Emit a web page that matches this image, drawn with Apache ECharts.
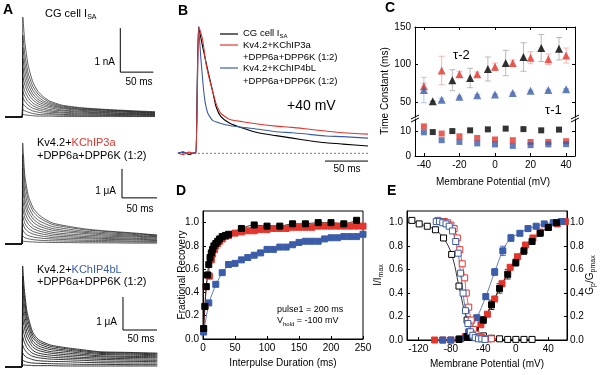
<!DOCTYPE html>
<html>
<head>
<meta charset="utf-8">
<script src="https://cdn.jsdelivr.net/npm/echarts@6/dist/echarts.min.js"></script>
<style>
  html, body { margin: 0; background: #fff; }
  #chart { width: 603px; height: 375px; }
</style>
</head>
<body>
<div id="chart"></div>
<script>
const FONT = 'Liberation Sans, Arial, Helvetica, sans-serif';
const RED = '#e3352c';
const BLUE = '#3b5ca9';

// ---- A: current families (time ms, current in nA / uA) ----
const aTopT = [-26, 0, 1, 4, 9, 16, 24, 32, 42, 60, 90, 130, 170, 201];
const aTopTraces = [
  [0, 0, 2.27, 1.70, 1.18, 0.80, 0.58, 0.46, 0.36, 0.27, 0.21, 0.17, 0.14, 0.12],
  [0, 0, 1.86, 1.42, 1.00, 0.70, 0.52, 0.42, 0.33, 0.25, 0.20, 0.16, 0.13, 0.11],
  [0, 0, 1.58, 1.22, 0.87, 0.61, 0.46, 0.37, 0.30, 0.23, 0.18, 0.15, 0.12, 0.10],
  [0, 0, 1.34, 1.04, 0.75, 0.53, 0.40, 0.33, 0.27, 0.21, 0.17, 0.13, 0.11, 0.09],
  [0, 0, 1.12, 0.88, 0.64, 0.46, 0.35, 0.29, 0.24, 0.19, 0.15, 0.12, 0.10, 0.08],
  [0, 0, 0.92, 0.73, 0.54, 0.39, 0.30, 0.25, 0.21, 0.16, 0.13, 0.10, 0.08, 0.07],
  [0, 0, 0.74, 0.59, 0.44, 0.32, 0.25, 0.21, 0.17, 0.14, 0.11, 0.09, 0.07, 0.06],
  [0, 0, 0.58, 0.47, 0.35, 0.26, 0.20, 0.17, 0.14, 0.11, 0.09, 0.07, 0.06, 0.05],
  [0, 0, 0.44, 0.36, 0.27, 0.20, 0.16, 0.13, 0.11, 0.09, 0.07, 0.06, 0.05, 0.04],
  [0, 0, 0.30, 0.25, 0.19, 0.14, 0.11, 0.09, 0.08, 0.06, 0.05, 0.04, 0.03, 0.03],
  [0, 0, 0.17, 0.14, 0.11, 0.08, 0.06, 0.05, 0.05, 0.04, 0.03, 0.03, 0.02, 0.02],
  [0, 0, 0.06, 0.05, 0.04, 0.03, 0.02, 0.02, 0.02, 0.01, 0.01, 0.01, 0.01, 0.01]
];
const aMidT = [-24, 0, 1, 4, 9, 16, 24, 32, 44, 64, 90, 120, 160, 193];
const aMidTraces = [
  [0, 0, 3.48, 2.37, 1.67, 1.24, 1.01, 0.87, 0.72, 0.62, 0.52, 0.45, 0.38, 0.31],
  [0, 0, 3.08, 2.12, 1.50, 1.12, 0.92, 0.80, 0.67, 0.58, 0.49, 0.43, 0.36, 0.30],
  [0, 0, 2.62, 1.82, 1.30, 0.98, 0.81, 0.71, 0.60, 0.52, 0.44, 0.39, 0.33, 0.28],
  [0, 0, 2.22, 1.56, 1.13, 0.86, 0.71, 0.62, 0.53, 0.46, 0.40, 0.35, 0.30, 0.25],
  [0, 0, 1.88, 1.34, 0.98, 0.75, 0.62, 0.55, 0.47, 0.41, 0.36, 0.31, 0.27, 0.23],
  [0, 0, 1.53, 1.10, 0.82, 0.63, 0.53, 0.47, 0.40, 0.35, 0.31, 0.27, 0.24, 0.20],
  [0, 0, 1.24, 0.90, 0.68, 0.53, 0.45, 0.40, 0.34, 0.30, 0.26, 0.23, 0.20, 0.17],
  [0, 0, 0.97, 0.71, 0.54, 0.43, 0.37, 0.33, 0.28, 0.25, 0.22, 0.19, 0.17, 0.14],
  [0, 0, 0.72, 0.54, 0.42, 0.34, 0.29, 0.26, 0.22, 0.20, 0.18, 0.16, 0.14, 0.12],
  [0, 0, 0.49, 0.37, 0.29, 0.24, 0.21, 0.19, 0.17, 0.15, 0.13, 0.12, 0.10, 0.09],
  [0, 0, 0.28, 0.22, 0.18, 0.15, 0.13, 0.12, 0.11, 0.10, 0.09, 0.08, 0.07, 0.06],
  [0, 0, 0.10, 0.09, 0.08, 0.07, 0.06, 0.06, 0.05, 0.05, 0.04, 0.04, 0.03, 0.03]
];
const aBotT = [-25, 0, 1, 3, 7, 12, 16, 24, 41, 66, 90, 115, 160, 199];
const aBotTraces = [
  [0, 0, 3.06, 2.45, 1.71, 1.29, 1.04, 0.83, 0.67, 0.58, 0.52, 0.46, 0.44, 0.42],
  [0, 0, 2.75, 2.21, 1.56, 1.18, 0.96, 0.77, 0.63, 0.55, 0.49, 0.44, 0.42, 0.40],
  [0, 0, 2.45, 1.98, 1.41, 1.07, 0.88, 0.71, 0.58, 0.51, 0.46, 0.41, 0.39, 0.37],
  [0, 0, 2.12, 1.72, 1.24, 0.95, 0.78, 0.64, 0.53, 0.47, 0.42, 0.38, 0.36, 0.34],
  [0, 0, 1.80, 1.47, 1.07, 0.83, 0.69, 0.57, 0.47, 0.42, 0.38, 0.34, 0.32, 0.31],
  [0, 0, 1.50, 1.23, 0.91, 0.71, 0.60, 0.50, 0.42, 0.37, 0.34, 0.31, 0.29, 0.28],
  [0, 0, 1.20, 0.99, 0.74, 0.59, 0.50, 0.42, 0.36, 0.32, 0.29, 0.27, 0.25, 0.24],
  [0, 0, 0.92, 0.77, 0.59, 0.47, 0.41, 0.35, 0.30, 0.27, 0.25, 0.23, 0.21, 0.20],
  [0, 0, 0.66, 0.56, 0.44, 0.36, 0.32, 0.28, 0.24, 0.22, 0.20, 0.18, 0.17, 0.16],
  [0, 0, 0.42, 0.36, 0.29, 0.25, 0.22, 0.19, 0.17, 0.16, 0.14, 0.13, 0.12, 0.12],
  [0, 0, 0.20, 0.18, 0.15, 0.13, 0.12, 0.11, 0.10, 0.09, 0.08, 0.08, 0.07, 0.07],
  [0, 0, 0.06, 0.06, 0.05, 0.05, 0.04, 0.04, 0.04, 0.03, 0.03, 0.03, 0.03, 0.03]
];

// ---- B: normalised traces at +40 mV ----
const bBlkT = [-21, -15, -8, -2, 0, 3, 7.8, 13.6, 19.4, 23.3, 29, 38.7, 54, 73.6, 93, 112, 132, 151, 170.6, 200];
const bBlkY = [0, 0.01, -0.01, 0.005, 0, 1.0, 0.84, 0.66, 0.49, 0.37, 0.29, 0.24, 0.20, 0.16, 0.14, 0.12, 0.10, 0.084, 0.073, 0.058];
const bRedT = [-21, -15, -8, -2, 0, 3.5, 7.8, 11.6, 15.5, 19.4, 23.3, 29, 38.7, 54, 73.6, 93, 112, 132, 151, 170.6, 200];
const bRedY = [0, -0.01, 0.01, 0, 0, 1.0, 0.895, 0.71, 0.59, 0.49, 0.395, 0.316, 0.27, 0.25, 0.23, 0.215, 0.205, 0.19, 0.176, 0.163, 0.152];
const bBluT = [-21, -15, -8, -2, 0, 3, 5.8, 9.7, 13.6, 19.4, 27, 38.7, 54, 73.6, 93, 112, 132, 151, 170.6, 200];
const bBluY = [0, 0.01, -0.005, 0.005, 0, 1.0, 0.74, 0.45, 0.32, 0.26, 0.24, 0.22, 0.205, 0.19, 0.17, 0.163, 0.15, 0.137, 0.132, 0.12];

// ---- C: time constants (ms) vs membrane potential (mV) ----
const cBlkV = [-35, -24, -14, -4, 6, 16, 26, 36];
const cColV = [-40, -30, -20, -10, 0, 10, 20, 30, 40];
const cBlkTau2 = [51, 79, 82, 94, 102, 110, 122, 121];
const cBlkTau2Err = [0, 14, 13, 16, 17, 19, 18, 15];
const cRedTau2 = [71, 92, 87, 87, 97, 102, 109, 107, 112];
const cRedTau2Err = [4, 19, 4, 3, 5, 4, 8, 7, 10];
const cBluTau2 = [66, 53, 57, 59, 60, 62, 65, 66, 67];
const cBluTau2Err = [17, 2, 1, 1, 1, 1, 1, 1, 1];
const cBlkTau1 = [9.7, 10.1, 10.4, 10.8, 11.1, 10.9, 10.4, 10.7];
const cRedTau1 = [12.0, 9.1, 8.0, 7.3, 6.7, 6.4, 5.7, 5.7, 6.0];
const cBluTau1 = [9.6, 6.4, 5.7, 5.1, 4.7, 4.1, 4.4, 4.7, 4.8];

// ---- D: fractional recovery vs interpulse duration (ms) ----
const dBlkX = [1, 3, 5, 7, 9, 11, 13, 15, 17, 20, 23, 26, 30, 35, 40, 60, 80, 100, 120, 140, 160, 180, 200, 220, 240];
const dBlkY = [0.09, 0.28, 0.45, 0.55, 0.64, 0.70, 0.74, 0.77, 0.80, 0.82, 0.84, 0.86, 0.88, 0.89, 0.90, 0.95, 0.98, 0.97, 0.97, 0.99, 0.99, 1.0, 1.0, 0.99, 1.02];
const dRedX = [1, 3, 5, 8, 10, 13, 15, 18, 20, 23, 26, 30, 35, 40, 50, 60, 70, 80, 90, 100, 110, 120, 130, 140, 150, 160, 170, 180, 190, 200, 210, 220, 230, 240, 250];
const dRedY = [0.09, 0.28, 0.45, 0.55, 0.54, 0.68, 0.73, 0.77, 0.80, 0.82, 0.84, 0.86, 0.88, 0.89, 0.91, 0.92, 0.93, 0.93, 0.94, 0.94, 0.95, 0.95, 0.95, 0.96, 0.96, 0.96, 0.96, 0.97, 0.97, 0.97, 0.97, 0.97, 0.97, 0.97, 0.97];
const dBluX = [1, 9, 20, 30, 40, 50, 60, 70, 80, 90, 100, 110, 120, 130, 140, 150, 160, 170, 180, 190, 200, 210, 220, 230, 240, 250];
const dBluY = [0.06, 0.31, 0.47, 0.57, 0.64, 0.65, 0.68, 0.70, 0.72, 0.74, 0.77, 0.77, 0.79, 0.79, 0.81, 0.83, 0.84, 0.84, 0.84, 0.86, 0.87, 0.87, 0.88, 0.88, 0.88, 0.90];

// ---- E: inactivation (open) and activation (filled) vs potential (mV) ----
const eBlkInV = [-128, -119, -109, -99, -89, -79, -70, -60, -51, -40, -30, -20, -10, 0, 10, 20];
const eBlkIn = [1.02, 0.99, 0.97, 0.94, 0.87, 0.73, 0.46, 0.17, 0.07, 0.035, 0.015, 0.01, 0.005, 0.005, 0.005, 0.005];
const eRedInV = [-96, -92, -88, -84, -80, -76, -72, -69, -66, -63, -61, -58, -55, -52, -49, -45, -42, -38, -34, -30];
const eRedIn = [1.02, 1.01, 1.01, 1.0, 0.98, 0.95, 0.87, 0.77, 0.65, 0.53, 0.40, 0.28, 0.17, 0.09, 0.05, 0.03, 0.02, 0.01, 0.01, 0.01];
const eBluInV = [-98, -94, -90, -86, -82, -78, -74, -71, -68, -65, -62, -59, -56, -53, -50, -46, -42, -38];
const eBluIn = [1.01, 1.01, 1.0, 0.99, 0.97, 0.93, 0.84, 0.74, 0.57, 0.40, 0.25, 0.14, 0.07, 0.04, 0.02, 0.01, 0.01, 0.005];
const eBlkActV = [-70, -60, -50, -40, -30, -20, -10, 0, 10, 20, 30, 40, 50];
const eBlkAct = [0.005, 0.03, 0.08, 0.17, 0.30, 0.44, 0.56, 0.66, 0.76, 0.84, 0.91, 0.96, 1.0];
const eBlkActErr = [0, 0.01, 0.02, 0.03, 0.04, 0.04, 0.04, 0.03, 0.03, 0.02, 0.02, 0.01, 0.01];
const eRedActV = [-100, -90, -80, -70, -62, -52, -43, -35, -26, -17, -7, 2, 12, 21, 30, 40, 51, 61];
const eRedAct = [0, 0, 0, 0.01, 0.03, 0.085, 0.13, 0.22, 0.35, 0.48, 0.62, 0.71, 0.81, 0.87, 0.92, 0.96, 0.99, 1.01];
const eBluActV = [-90, -80, -68, -58, -48, -37, -26, -16, -6, 5, 15, 25, 35, 46, 56];
const eBluAct = [0, 0, 0.01, 0.07, 0.19, 0.37, 0.58, 0.76, 0.87, 0.91, 0.95, 0.97, 0.99, 1.0, 1.01];
const eBluActErr = [0, 0, 0, 0.01, 0.02, 0.02, 0.03, 0.04, 0.03, 0.02, 0.02, 0.01, 0.01, 0.01, 0.01];

// tick labels
const cTicksX = [-40, -20, 0, 20, 40];
const cTicksUp = [50, 100, 150];
const cTicksLow = [0, 10];
const dTicksX = [0, 50, 100, 150, 200, 250];
const fracTicks = [0, 0.2, 0.4, 0.6, 0.8, 1.0];
const eTicksX = [-120, -80, -40, 0, 40];

const chart = echarts.init(document.getElementById('chart'));

const grids = [
  { left: 5, top: 10, width: 150, height: 110 },     // A top
  { left: 5, top: 138, width: 152, height: 110 },    // A middle
  { left: 5, top: 262, width: 152, height: 110 },    // A bottom
  { left: 178, top: 20, width: 190, height: 155 },   // B
  { left: 415, top: 27, width: 160, height: 90 },    // C upper
  { left: 415, top: 119, width: 160, height: 37 },   // C lower
  { left: 203, top: 211, width: 160, height: 128, show: true, borderColor: '#000', borderWidth: 1 }, // D
  { left: 407, top: 211, width: 160, height: 129, show: true, borderColor: '#000', borderWidth: 1 }  // E
];

function hidden(gridIndex, min, max) {
  return { type: 'value', gridIndex: gridIndex, min: min, max: max, show: false, splitLine: { show: false } };
}
function axis(gridIndex, min, max, position, ticks, showLabels, fmt) {
  return {
    type: 'value', gridIndex: gridIndex, min: min, max: max, position: position,
    splitLine: { show: false },
    axisLine: { show: true, onZero: false, lineStyle: { color: '#000', width: 1 } },
    axisTick: { show: true, inside: true, length: 3, customValues: ticks, lineStyle: { color: '#000', width: 1 } },
    axisLabel: { show: showLabels, customValues: ticks, formatter: fmt, color: '#000', fontSize: 10, fontFamily: FONT, margin: 4 }
  };
}
const fix1 = function (v) { return v.toFixed(1); };

const xAxes = [
  hidden(0, -26, 201),
  hidden(1, -24.3, 192.9),
  hidden(2, -25, 198.5),
  hidden(3, -20.9, 200),
  axis(4, -45, 45, 'top', cTicksX, false),
  axis(5, -45, 45, 'bottom', cTicksX, true),
  axis(6, 0, 250, 'bottom', dTicksX, true),
  axis(7, -134, 63, 'bottom', eTicksX, true)
];
const yAxes = [
  hidden(0, -0.068, 2.432),
  hidden(1, -0.138, 3.655),
  hidden(2, -0.152, 3.18),
  hidden(3, -0.171, 1.053),
  axis(4, 30, 150, 'left', cTicksUp, true),     // 4
  axis(4, 30, 150, 'right', cTicksUp, false),   // 5
  axis(5, 0, 15, 'left', cTicksLow, true),      // 6
  axis(5, 0, 15, 'right', cTicksLow, false),    // 7
  axis(6, 0, 1.1, 'left', fracTicks, true, fix1),  // 8
  axis(7, 0, 1.1, 'left', fracTicks, true, fix1),  // 9
  axis(7, 0, 1.1, 'right', fracTicks, true, fix1)  // 10
];
yAxes[10].axisLabel.margin = 3;

const series = [];
function pairs(xs, ys) { return xs.map(function (x, i) { return [x, ys[i]]; }); }

function traces(list, times, idx, width) {
  list.forEach(function (vals) {
    series.push({
      type: 'line', xAxisIndex: idx, yAxisIndex: idx, silent: true, showSymbol: false, smooth: 0.2,
      lineStyle: { color: '#1b1b1b', width: width }, data: pairs(times, vals)
    });
  });
}
function scaleBar(idx, x0, y0, ylen) {
  const d = ylen ? [[x0, y0 + ylen], [x0, y0], [x0 + 50, y0]] : [[x0, y0], [x0 + 50, y0]];
  series.push({ type: 'line', xAxisIndex: idx, yAxisIndex: idx, silent: true, showSymbol: false,
    lineStyle: { color: '#000', width: 1 }, data: d });
}
function trace(idx, xs, ys, color, width) {
  series.push({ type: 'line', xAxisIndex: idx, yAxisIndex: idx, silent: true, showSymbol: false, smooth: 0.2,
    lineStyle: { color: color, width: width }, data: pairs(xs, ys) });
}
function scatter(xi, yi, xs, ys, color, symbol, size) {
  series.push({ type: 'scatter', xAxisIndex: xi, yAxisIndex: yi, silent: true, z: 3,
    symbol: symbol, symbolSize: size, itemStyle: { color: color }, data: pairs(xs, ys) });
}
// open = hollow square drawn with a thin border
function curve(xi, yi, xs, ys, color, open, size, smooth) {
  series.push({ type: 'line', xAxisIndex: xi, yAxisIndex: yi, silent: true, z: open ? 4 : 3,
    symbol: 'rect', symbolSize: size, showSymbol: true, showAllSymbol: true, smooth: smooth,
    lineStyle: { color: color, width: 0.8 },
    itemStyle: { color: open ? '#fff' : color, borderColor: color, borderWidth: 1 }, data: pairs(xs, ys) });
}
function errBars(xi, yi, xs, ys, es, color) {
  series.push({
    type: 'custom', xAxisIndex: xi, yAxisIndex: yi, silent: true, z: 2,
    data: xs.map(function (x, i) { return [x, ys[i] - es[i], ys[i] + es[i]]; }),
    renderItem: function (params, api) {
      const lo = api.coord([api.value(0), api.value(1)]);
      const hi = api.coord([api.value(0), api.value(2)]);
      const st = { stroke: color, lineWidth: 0.8 };
      return { type: 'group', children: [
        { type: 'line', shape: { x1: lo[0], y1: lo[1], x2: hi[0], y2: hi[1] }, style: st },
        { type: 'line', shape: { x1: lo[0] - 3, y1: lo[1], x2: lo[0] + 3, y2: lo[1] }, style: st },
        { type: 'line', shape: { x1: hi[0] - 3, y1: hi[1], x2: hi[0] + 3, y2: hi[1] }, style: st }
      ] };
    }
  });
}

// A
traces(aTopTraces, aTopT, 0, 0.7);
traces(aMidTraces, aMidT, 1, 0.7);
traces(aBotTraces, aBotT, 2, 0.9);
scaleBar(0, 148.5, 1.02, 1);
scaleBar(1, 142.9, 1.59, 1);
scaleBar(2, 148.5, 1.12, 1);

// B
series.push({ type: 'line', xAxisIndex: 3, yAxisIndex: 3, silent: true, showSymbol: false,
  lineStyle: { color: '#555', width: 0.8, type: [2, 2] }, data: [[-20.9, 0], [200, 0]] });
trace(3, bBlkT, bBlkY, '#000', 1.1);
trace(3, bBluT, bBluY, BLUE, 1.1);
trace(3, bRedT, bRedY, RED, 1.1);
scaleBar(3, 150, -0.061);

// C
errBars(4, 4, cBlkV, cBlkTau2, cBlkTau2Err, '#a8a8a8');
errBars(4, 4, cColV, cRedTau2, cRedTau2Err, '#f2a6a2');
errBars(4, 4, cColV, cBluTau2, cBluTau2Err, '#a9b8de');
scatter(4, 4, cBlkV, cBlkTau2, '#000', 'triangle', 8);
scatter(4, 4, cColV, cRedTau2, RED, 'triangle', 8);
scatter(4, 4, cColV, cBluTau2, BLUE, 'triangle', 8);
scatter(5, 6, cBlkV, cBlkTau1, '#000', 'rect', 6);
scatter(5, 6, cColV, cRedTau1, RED, 'rect', 6);
scatter(5, 6, cColV, cBluTau1, BLUE, 'rect', 6);

// D
curve(6, 8, dBluX, dBluY, BLUE, false, 6, false);
curve(6, 8, dRedX, dRedY, RED, false, 6, false);
curve(6, 8, dBlkX, dBlkY, '#000', false, 6, 0.3);

// E
errBars(7, 9, eBlkActV, eBlkAct, eBlkActErr, '#000');
errBars(7, 9, eBluActV, eBluAct, eBluActErr, BLUE);
curve(7, 9, eRedActV, eRedAct, RED, false, 6, 0.4);
curve(7, 9, eBluActV, eBluAct, BLUE, false, 6, 0.4);
curve(7, 9, eBlkActV, eBlkAct, '#000', false, 6, 0.4);
curve(7, 9, eBlkInV, eBlkIn, '#000', true, 6, 0.4);
curve(7, 9, eRedInV, eRedIn, RED, true, 6, 0.4);
curve(7, 9, eBluInV, eBluIn, BLUE, true, 6, 0.4);

// ---- text ----
function richStyles(size) {
  const base = { fontSize: size, fontFamily: FONT, lineHeight: size, verticalAlign: 'top' };
  return {
    m: Object.assign({ fill: '#000' }, base),
    r: Object.assign({ fill: RED }, base),
    b: Object.assign({ fill: BLUE }, base),
    s: { fill: '#000', fontSize: Math.round(size * 0.65), fontFamily: FONT, lineHeight: size + 6, verticalAlign: 'middle' }
  };
}
function label(x, y, text, size, align, extra) {
  extra = extra || {};
  const style = {
    text: text, fill: '#000', fontSize: size, fontFamily: FONT,
    fontWeight: extra.bold ? 'bold' : 'normal',
    align: align || 'left', verticalAlign: 'middle'
  };
  if (extra.rich) style.rich = richStyles(size);
  return { type: 'text', x: x, y: y, rotation: extra.rot || 0, silent: true, z: 100, style: style };
}
function line(x1, y1, x2, y2, color, w) {
  return { type: 'line', silent: true, z: 100, shape: { x1: x1, y1: y1, x2: x2, y2: y2 },
    style: { stroke: color, lineWidth: w || 1 } };
}
const UP = Math.PI / 2;

const graphic = [
  label(3, 10, 'A', 14, 'left', { bold: true }),
  label(178, 11, 'B', 14, 'left', { bold: true }),
  label(385, 8, 'C', 14, 'left', { bold: true }),
  label(176, 191, 'D', 14, 'left', { bold: true }),
  label(387, 191, 'E', 14, 'left', { bold: true }),

  // A
  label(45, 17, '{m|CG cell I}{s|SA}', 11, 'left', { rich: true }),
  label(115, 62, '1 nA', 10, 'right'),
  label(139, 82, '50 ms', 10, 'center'),
  label(37, 143, '{m|Kv4.2+}{r|KChIP3a}', 11, 'left', { rich: true }),
  label(37, 156, '+DPP6a+DPP6K (1:2)', 11),
  label(116, 191, '1 \u03bcA', 10, 'right'),
  label(140, 209, '50 ms', 10, 'center'),
  label(37, 270, '{m|Kv4.2+}{b|KChIP4bL}', 11, 'left', { rich: true }),
  label(37, 282, '+DPP6a+DPP6K (1:2)', 11),
  label(117, 322, '1 \u03bcA', 10, 'right'),
  label(141, 339, '50 ms', 10, 'center'),

  // B legend
  line(220, 34, 238, 34, '#000', 1.2),
  line(220, 45, 238, 45, RED, 1.2),
  line(220, 68, 238, 68, BLUE, 1.2),
  label(243, 36, '{m|CG cell I}{s|SA}', 9.5, 'left', { rich: true }),
  label(243, 45, 'Kv4.2+KChIP3a', 9.5),
  label(243, 57, '+DPP6a+DPP6K (1:2)', 9.5),
  label(243, 68, 'Kv4.2+KChIP4bL', 9.5),
  label(243, 81, '+DPP6a+DPP6K (1:2)', 9.5),
  label(287, 106, '+40 mV', 14),
  label(347, 169, '50 ms', 10, 'center'),

  // C
  label(453, 55, '\u03c4-2', 13),
  label(545, 110, '\u03c4-1', 13),
  label(385, 91, 'Time Constant (ms)', 10, 'center', { rot: UP }),
  label(493, 182, 'Membrane Potential (mV)', 10, 'center'),
  line(411, 119, 419, 115, '#000', 1),
  line(411, 122, 419, 118, '#000', 1),
  line(571, 119, 579, 115, '#000', 1),
  line(571, 122, 579, 118, '#000', 1),

  // D
  label(182, 275, 'Fractional Recovery', 10, 'center', { rot: UP }),
  label(283, 363, 'Interpulse Duration (ms)', 10, 'center'),
  label(277, 310, 'pulse1 = 200 ms', 9),
  label(277, 324, '{m|V}{s|hold}{m| = -100 mV}', 9, 'left', { rich: true }),

  // E
  label(381, 275, '{m|I/I}{s|max}', 10, 'center', { rich: true, rot: UP }),
  label(593, 275, '{m|G}{s|p}{m|/G}{s|pmax}', 10, 'center', { rich: true, rot: UP }),
  label(487, 364, 'Membrane Potential (mV)', 10, 'center')
];

chart.setOption({
  animation: false,
  backgroundColor: '#fff',
  grid: grids,
  xAxis: xAxes,
  yAxis: yAxes,
  series: series,
  graphic: graphic
});
</script>
</body>
</html>
